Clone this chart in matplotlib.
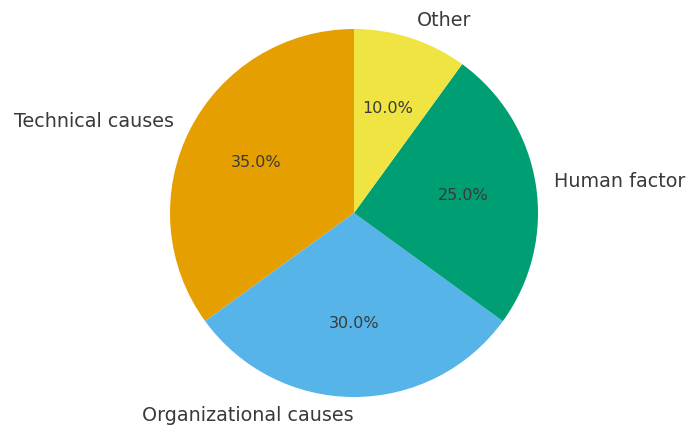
import matplotlib.pyplot as plt

# Chart data
labels = ['Technical causes', 'Organizational causes', 'Human factor', 'Other']
shares = [35, 30, 25, 10]
colors = ['#E69F00', '#56B4E9', '#009E73', '#F0E442']

fig = plt.figure(figsize=(6.86, 4.25), dpi=100)
ax = fig.add_axes([170 / 686, 28 / 425, 368 / 686, 368 / 425])

wedges, texts, autotexts = ax.pie(
    shares, labels=labels, colors=colors, autopct='%1.1f%%',
    startangle=90, counterclock=True,
    textprops={'fontsize': 13.8, 'color': '#3a3a3a'},
)
for t in autotexts:
    t.set_fontsize(11.5)
    t.set_color('#3a3a3a')

# the bottom label sits to the left of the pie's centre line
texts[1].set_horizontalalignment('right')

ax.set_xlim(-1, 1)
ax.set_ylim(-1, 1)
ax.set_aspect('equal')

fig.savefig('out.png', dpi=100, facecolor='white')
